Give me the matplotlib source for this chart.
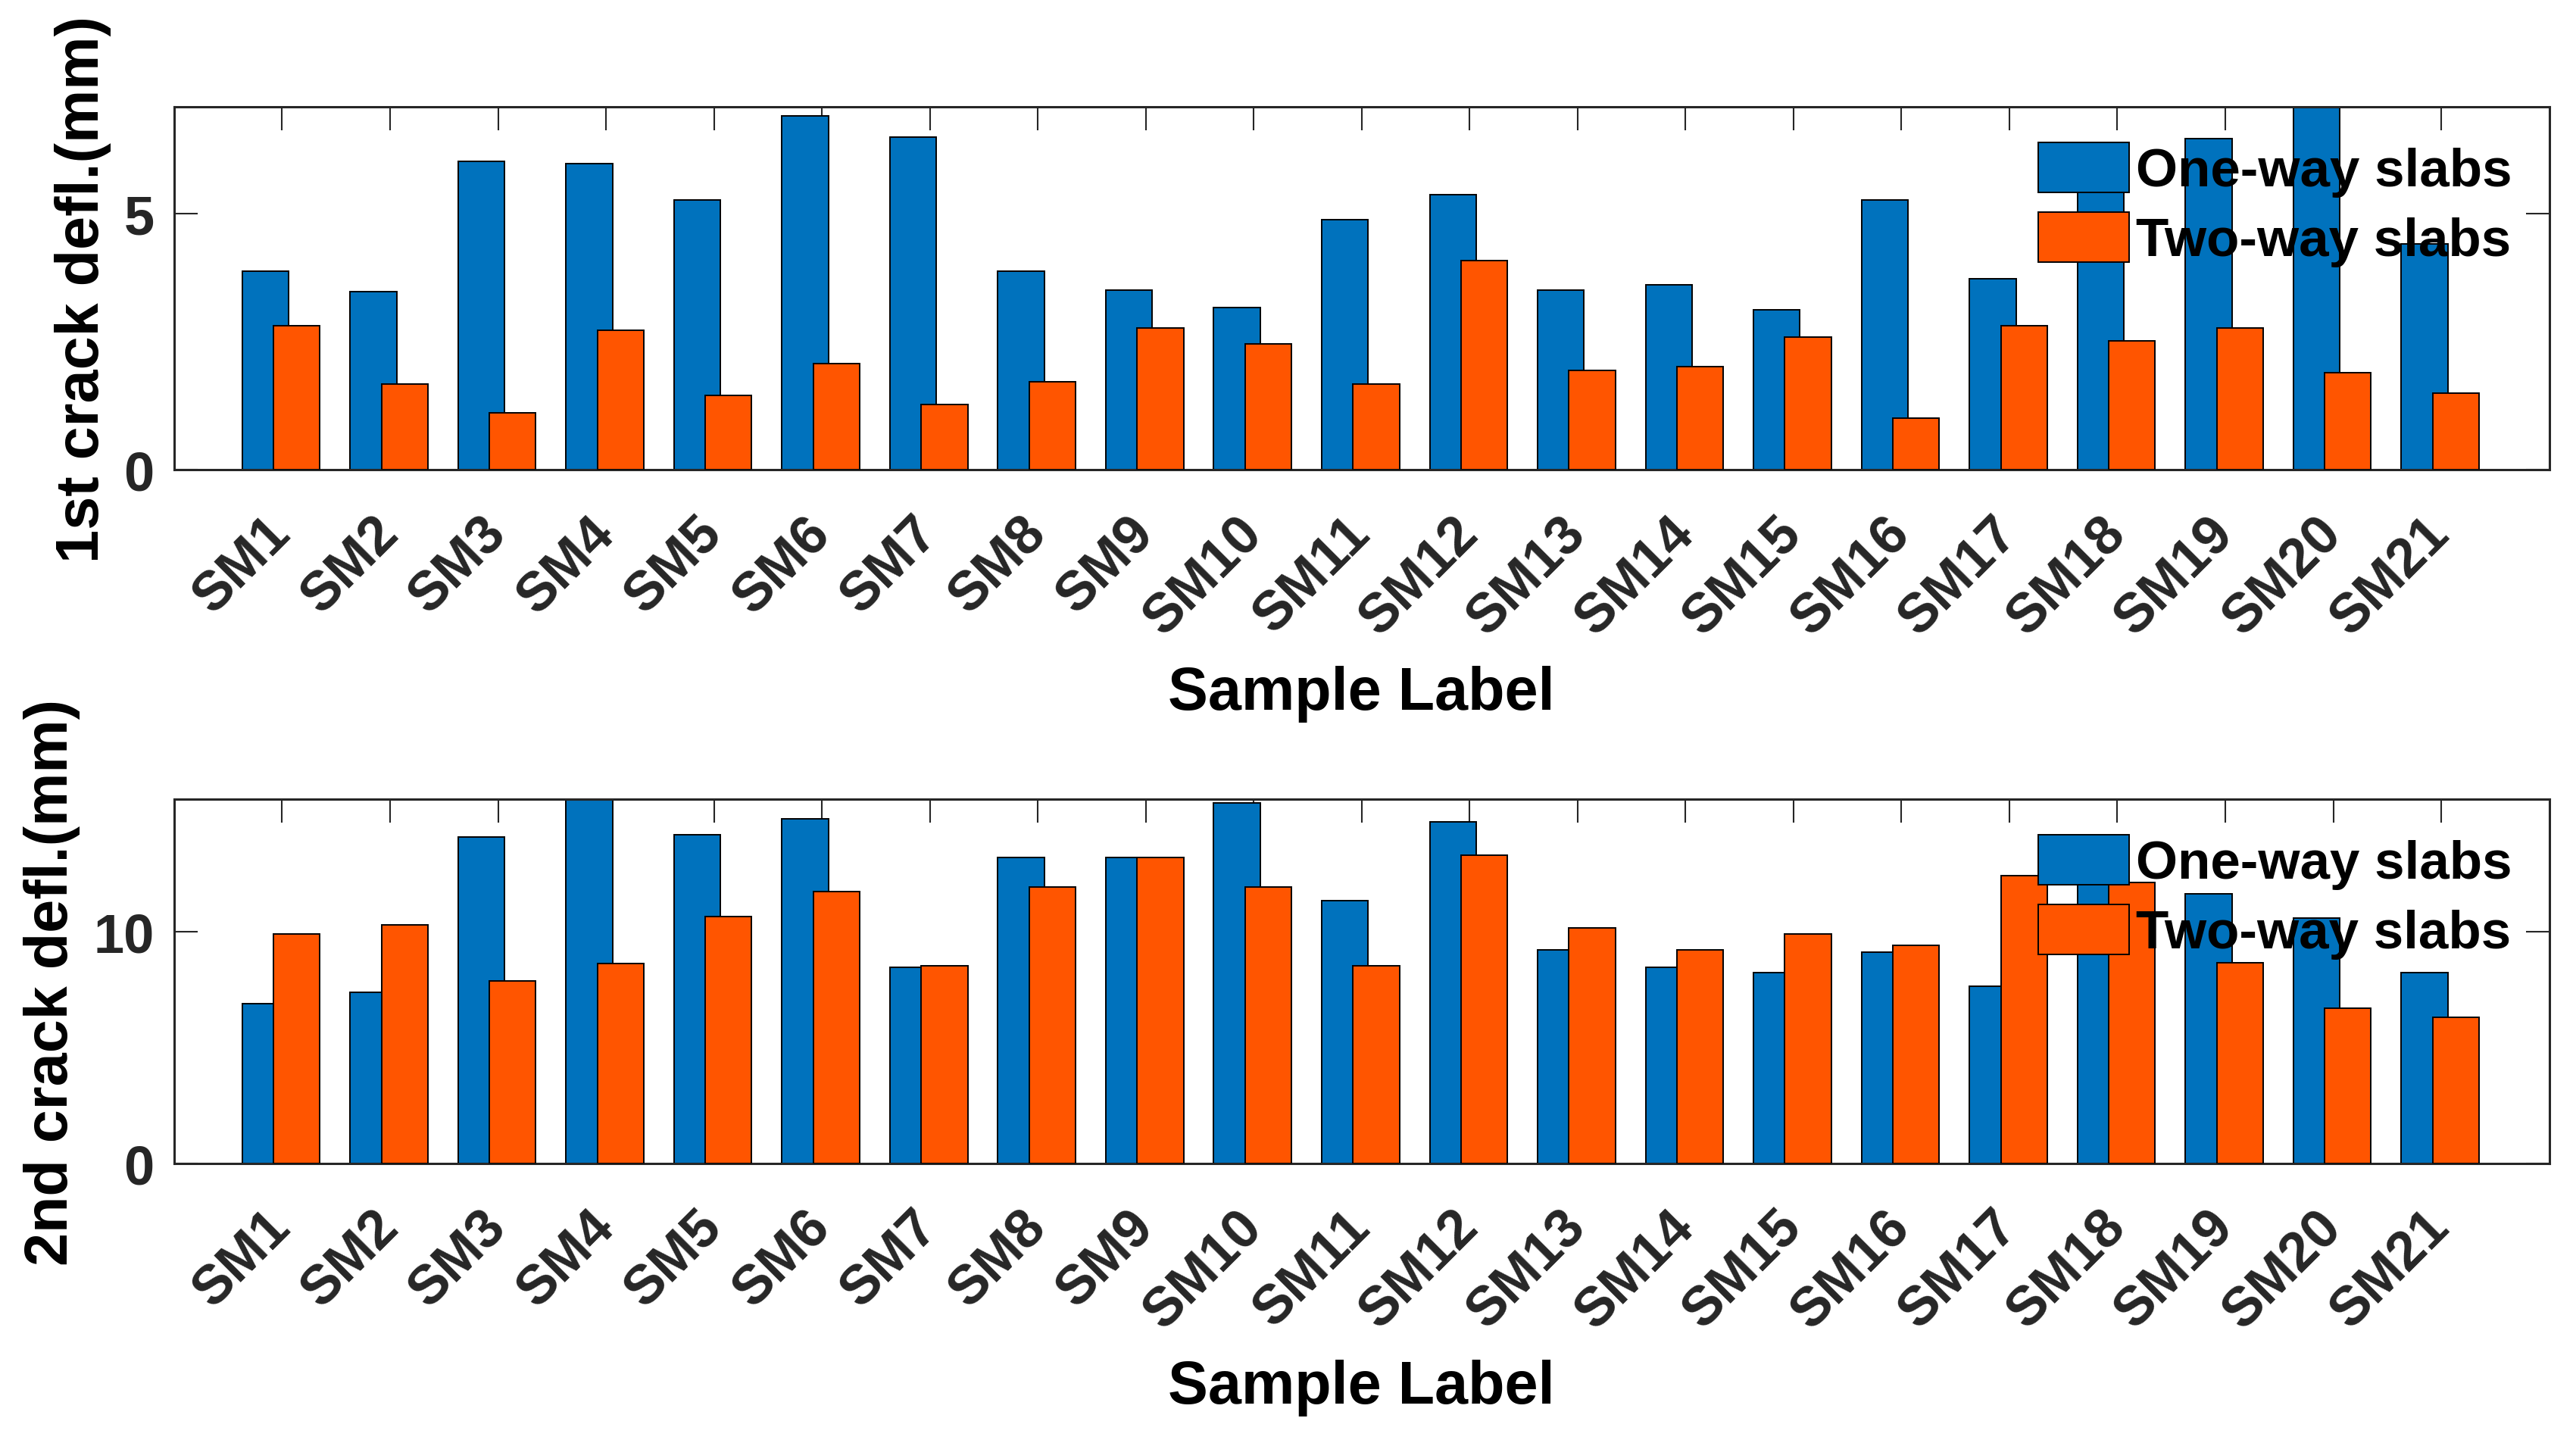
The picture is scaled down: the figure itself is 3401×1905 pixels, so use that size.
import matplotlib
matplotlib.use("Agg")
import matplotlib.pyplot as plt
from matplotlib.transforms import ScaledTranslation
import numpy as np

samples = [f"SM{i}" for i in range(1, 22)]

first_one_way = [3.87, 3.47, 6.01, 5.97, 5.26, 6.90, 6.49, 3.87, 3.51, 3.16, 4.87,
                 5.36, 3.51, 3.60, 3.12, 5.26, 3.73, 5.90, 6.45, 7.07, 4.40]
first_two_way = [2.81, 1.68, 1.11, 2.72, 1.45, 2.07, 1.28, 1.72, 2.77, 2.46, 1.68,
                 4.08, 1.94, 2.02, 2.59, 1.01, 2.81, 2.51, 2.77, 1.89, 1.50]

second_one_way = [6.90, 7.38, 14.11, 15.74, 14.20, 14.88, 8.46, 13.22, 13.22, 15.56, 11.36,
                  14.77, 9.24, 8.46, 8.26, 9.13, 7.67, 13.00, 11.65, 10.60, 8.26]
second_two_way = [9.92, 10.29, 7.87, 8.63, 10.68, 11.75, 8.55, 11.95, 13.22, 11.95, 8.55,
                  13.31, 10.19, 9.24, 9.92, 9.43, 12.43, 12.14, 8.66, 6.70, 6.32]

series_names = ["One-way slabs", "Two-way slabs"]
y_labels = ["1st crack defl.(mm)", "2nd crack defl.(mm)"]
y_ticks = [[0, 5], [0, 10]]

BLUE = "#0072BD"
ORANGE = "#FF5500"
FONT = "Liberation Sans"

plt.rcParams["font.family"] = [FONT, "DejaVu Sans"]
plt.rcParams["font.weight"] = "bold"

fig = plt.figure(figsize=(34.01, 19.06), dpi=100)
ax_top = fig.add_axes([0.0676, 0.674, 0.922, 0.2513])
ax_bot = fig.add_axes([0.0676, 0.1936, 0.922, 0.2524])

x = np.arange(1, len(samples) + 1)
panels = [
    (ax_top, first_one_way, first_two_way, y_labels[0], y_ticks[0]),
    (ax_bot, second_one_way, second_two_way, y_labels[1], y_ticks[1]),
]

# small rightward nudge of the rotated tick labels, like MATLAB places them
nudge = ScaledTranslation(0.23, 0, fig.dpi_scale_trans)

for ax, one_way, two_way, ylab, yt in panels:
    ax.bar(x - 0.155, one_way, width=0.43, color=BLUE, edgecolor="black",
           linewidth=1.4, label=series_names[0], zorder=2)
    ax.bar(x + 0.135, two_way, width=0.43, color=ORANGE, edgecolor="black",
           linewidth=1.4, label=series_names[1], zorder=3)

    ax.set_xlim(0, 22)
    ax.set_ylim(0, max(one_way + two_way))
    ax.set_xticks(x)
    ax.set_xticklabels(samples, rotation=45, ha="right", va="center",
                       rotation_mode="anchor", fontsize=52, fontweight="bold",
                       color="#262626")
    for lbl in ax.get_xticklabels():
        lbl.set_transform(lbl.get_transform() + nudge)
    ax.set_yticks(yt)
    ax.set_yticklabels([str(t) for t in yt], fontsize=52, fontweight="bold",
                       color="#262626")
    ax.tick_params(axis="both", direction="in", length=22, width=1.5,
                   top=True, right=True, color="#262626")
    ax.tick_params(axis="x", pad=52)
    ax.tick_params(axis="y", pad=19)
    for sp in ax.spines.values():
        sp.set_linewidth(2.2)
        sp.set_color("#262626")
    ax.set_ylabel(ylab, fontsize=57, fontweight="bold", labelpad=12)
    ax.set_xlabel("Sample Label", fontsize=57, fontweight="bold", labelpad=20)

    ax.legend(loc="upper left", bbox_to_anchor=(0.785, 0.902), frameon=False,
              handlelength=1.69, handleheight=1.05,
              handletextpad=0.13, labelspacing=0.28, borderpad=0,
              borderaxespad=0, prop={"family": FONT, "weight": "bold", "size": 51})

fig.savefig("out.png", dpi=100)
